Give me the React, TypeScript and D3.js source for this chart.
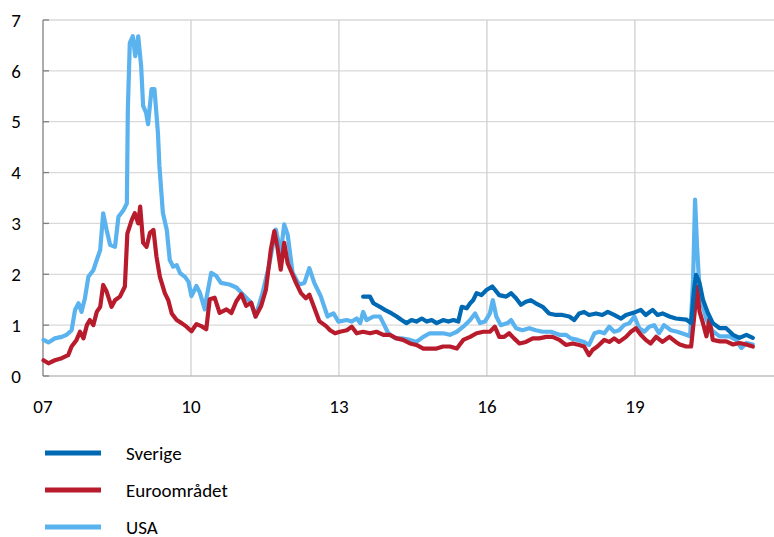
import React from 'react';
import * as d3 from 'd3';

// [år (decimal), procentenheter]
const sverige: [number, number][] = [
  [2013.49, 1.56], [2013.63, 1.56], [2013.7, 1.43], [2013.83, 1.36], [2013.93, 1.3],
  [2014.07, 1.23], [2014.17, 1.17], [2014.27, 1.1], [2014.37, 1.04], [2014.47, 1.1],
  [2014.57, 1.07], [2014.68, 1.13], [2014.78, 1.07], [2014.88, 1.1], [2014.98, 1.04],
  [2015.11, 1.1], [2015.22, 1.07], [2015.32, 1.1], [2015.42, 1.07], [2015.49, 1.36],
  [2015.59, 1.33], [2015.66, 1.43], [2015.72, 1.49], [2015.79, 1.63], [2015.89, 1.59],
  [2015.99, 1.69], [2016.11, 1.76], [2016.25, 1.59], [2016.39, 1.56], [2016.49, 1.63],
  [2016.59, 1.53], [2016.69, 1.4], [2016.79, 1.46], [2016.89, 1.49], [2016.99, 1.43],
  [2017.13, 1.36], [2017.26, 1.23], [2017.4, 1.2], [2017.53, 1.2], [2017.67, 1.17],
  [2017.77, 1.1], [2017.87, 1.23], [2017.97, 1.26], [2018.07, 1.2], [2018.21, 1.23],
  [2018.34, 1.2], [2018.45, 1.26], [2018.58, 1.2], [2018.72, 1.13], [2018.82, 1.2],
  [2018.92, 1.23], [2019.02, 1.26], [2019.12, 1.3], [2019.22, 1.2], [2019.36, 1.3],
  [2019.46, 1.2], [2019.56, 1.23], [2019.7, 1.17], [2019.83, 1.13], [2020.04, 1.11],
  [2020.14, 1.04], [2020.2, 1.7], [2020.24, 1.99], [2020.31, 1.83], [2020.38, 1.5],
  [2020.48, 1.24], [2020.58, 1.04], [2020.72, 0.94], [2020.85, 0.94], [2020.99, 0.81],
  [2021.12, 0.75], [2021.26, 0.81], [2021.39, 0.75],
];

const euro: [number, number][] = [
  [2007.01, 0.31], [2007.11, 0.25], [2007.24, 0.31], [2007.38, 0.35], [2007.51, 0.41],
  [2007.58, 0.58], [2007.68, 0.71], [2007.75, 0.87], [2007.82, 0.74], [2007.89, 1.0],
  [2007.95, 1.1], [2008.02, 1.0], [2008.09, 1.26], [2008.16, 1.36], [2008.22, 1.79],
  [2008.29, 1.66], [2008.39, 1.36], [2008.46, 1.49], [2008.56, 1.56], [2008.66, 1.76],
  [2008.71, 2.8], [2008.8, 3.07], [2008.86, 3.2], [2008.93, 3.0], [2008.97, 3.33],
  [2009.03, 2.62], [2009.1, 2.54], [2009.17, 2.82], [2009.24, 2.87], [2009.3, 2.35],
  [2009.37, 1.95], [2009.47, 1.63], [2009.54, 1.49], [2009.61, 1.23], [2009.71, 1.1],
  [2009.81, 1.04], [2009.91, 0.97], [2010.01, 0.88], [2010.11, 1.02], [2010.21, 0.98],
  [2010.31, 0.92], [2010.38, 1.51], [2010.48, 1.54], [2010.58, 1.24], [2010.72, 1.31],
  [2010.82, 1.24], [2010.92, 1.47], [2011.02, 1.61], [2011.12, 1.38], [2011.22, 1.44],
  [2011.31, 1.17], [2011.42, 1.37], [2011.52, 1.7], [2011.62, 2.49], [2011.69, 2.85],
  [2011.75, 2.55], [2011.82, 2.09], [2011.89, 2.62], [2011.96, 2.22], [2012.03, 2.06],
  [2012.13, 1.83], [2012.23, 1.63], [2012.33, 1.53], [2012.4, 1.6], [2012.5, 1.34],
  [2012.6, 1.08], [2012.74, 0.98], [2012.82, 0.9], [2012.92, 0.84], [2013.02, 0.87],
  [2013.16, 0.9], [2013.26, 0.97], [2013.36, 0.84], [2013.49, 0.87], [2013.63, 0.84],
  [2013.76, 0.87], [2013.9, 0.81], [2014.03, 0.81], [2014.17, 0.74], [2014.3, 0.71],
  [2014.44, 0.64], [2014.57, 0.61], [2014.71, 0.54], [2014.84, 0.54], [2014.98, 0.54],
  [2015.11, 0.58], [2015.25, 0.58], [2015.39, 0.54], [2015.52, 0.71], [2015.66, 0.77],
  [2015.79, 0.84], [2015.93, 0.87], [2016.06, 0.87], [2016.16, 0.97], [2016.25, 0.77],
  [2016.35, 0.77], [2016.45, 0.84], [2016.55, 0.74], [2016.66, 0.64], [2016.79, 0.67],
  [2016.93, 0.74], [2017.06, 0.74], [2017.2, 0.77], [2017.33, 0.77], [2017.47, 0.71],
  [2017.6, 0.61], [2017.74, 0.64], [2017.87, 0.61], [2017.97, 0.58], [2018.07, 0.41],
  [2018.14, 0.51], [2018.24, 0.58], [2018.38, 0.71], [2018.48, 0.67], [2018.58, 0.74],
  [2018.68, 0.67], [2018.82, 0.77], [2018.92, 0.87], [2019.02, 0.94], [2019.12, 0.81],
  [2019.22, 0.71], [2019.32, 0.64], [2019.43, 0.77], [2019.56, 0.67], [2019.7, 0.77],
  [2019.83, 0.67], [2019.91, 0.62], [2020.04, 0.58], [2020.14, 0.58], [2020.21, 1.24],
  [2020.26, 1.76], [2020.31, 1.27], [2020.38, 1.04], [2020.45, 0.78], [2020.51, 1.11],
  [2020.58, 0.71], [2020.72, 0.68], [2020.85, 0.68], [2020.99, 0.62], [2021.12, 0.65],
  [2021.26, 0.62], [2021.39, 0.58],
];

const usa: [number, number][] = [
  [2007.01, 0.71], [2007.11, 0.66], [2007.24, 0.74], [2007.38, 0.77], [2007.48, 0.81],
  [2007.58, 0.9], [2007.65, 1.3], [2007.72, 1.43], [2007.78, 1.26], [2007.85, 1.53],
  [2007.92, 1.95], [2008.02, 2.08], [2008.09, 2.28], [2008.16, 2.48], [2008.22, 3.2],
  [2008.29, 2.87], [2008.36, 2.58], [2008.46, 2.54], [2008.53, 3.13], [2008.63, 3.26],
  [2008.7, 3.39], [2008.72, 5.24], [2008.76, 6.55], [2008.82, 6.68], [2008.87, 6.29],
  [2008.93, 6.68], [2008.99, 6.09], [2009.03, 5.31], [2009.09, 5.18], [2009.13, 4.95],
  [2009.2, 5.64], [2009.26, 5.64], [2009.33, 4.78], [2009.36, 4.13], [2009.43, 3.21],
  [2009.51, 2.87], [2009.57, 2.28], [2009.64, 2.15], [2009.71, 2.18], [2009.78, 2.02],
  [2009.88, 1.95], [2009.95, 1.85], [2010.01, 1.57], [2010.11, 1.77], [2010.18, 1.64],
  [2010.28, 1.31], [2010.31, 1.51], [2010.41, 2.03], [2010.51, 1.97], [2010.61, 1.83],
  [2010.78, 1.8], [2010.92, 1.74], [2011.05, 1.61], [2011.22, 1.44], [2011.31, 1.17],
  [2011.45, 1.63], [2011.58, 2.16], [2011.72, 2.88], [2011.82, 2.42], [2011.89, 2.98],
  [2011.96, 2.78], [2012.06, 2.03], [2012.19, 1.8], [2012.3, 1.83], [2012.4, 2.12],
  [2012.5, 1.83], [2012.63, 1.57], [2012.77, 1.17], [2012.82, 1.2], [2012.89, 1.23],
  [2012.99, 1.07], [2013.16, 1.1], [2013.26, 1.07], [2013.36, 1.13], [2013.43, 1.04],
  [2013.49, 1.26], [2013.56, 1.1], [2013.7, 1.17], [2013.83, 1.17], [2013.9, 1.04],
  [2014.0, 0.84], [2014.14, 0.74], [2014.27, 0.74], [2014.44, 0.71], [2014.57, 0.67],
  [2014.71, 0.77], [2014.84, 0.84], [2014.98, 0.84], [2015.11, 0.84], [2015.25, 0.81],
  [2015.39, 0.87], [2015.52, 0.97], [2015.66, 1.1], [2015.76, 1.23], [2015.86, 1.04],
  [2015.96, 1.07], [2016.06, 1.23], [2016.12, 1.49], [2016.19, 1.17], [2016.28, 1.0],
  [2016.42, 1.04], [2016.49, 1.1], [2016.59, 0.94], [2016.72, 0.9], [2016.86, 0.94],
  [2016.99, 0.9], [2017.13, 0.87], [2017.3, 0.87], [2017.47, 0.81], [2017.6, 0.81],
  [2017.7, 0.74], [2017.84, 0.71], [2017.97, 0.67], [2018.07, 0.61], [2018.18, 0.84],
  [2018.28, 0.87], [2018.38, 0.84], [2018.48, 0.97], [2018.58, 0.87], [2018.68, 0.9],
  [2018.78, 1.0], [2018.89, 1.04], [2018.99, 1.17], [2019.09, 0.94], [2019.19, 0.87],
  [2019.29, 0.97], [2019.39, 1.0], [2019.49, 0.84], [2019.59, 1.0], [2019.73, 0.9],
  [2019.86, 0.87], [2020.04, 0.81], [2020.12, 0.78], [2020.18, 1.89], [2020.22, 3.47],
  [2020.26, 2.55], [2020.31, 1.7], [2020.38, 1.37], [2020.45, 1.11], [2020.58, 0.88],
  [2020.72, 0.78], [2020.92, 0.78], [2021.05, 0.71], [2021.16, 0.55], [2021.26, 0.65],
  [2021.39, 0.62],
];

const yTicks = [0, 1, 2, 3, 4, 5, 6, 7];
const xTicks = [2007, 2010, 2013, 2016, 2019];
const xTickLabels = ['07', '10', '13', '16', '19'];

const series = [
  { name: 'Sverige', data: sverige, color: '#0069b4' },
  { name: 'Euroområdet', data: euro, color: '#b81c2c' },
  { name: 'USA', data: usa, color: '#5ab3ee' },
];

const W = 774;
const H = 537;
const font = 'Carlito, Lato, "Open Sans", sans-serif';

export default function App() {
  const x = d3.scaleLinear().domain([2007, 2021.8]).range([43, 773]);
  const y = d3.scaleLinear().domain([0, 7]).range([376, 20]);

  const line = d3
    .line<[number, number]>()
    .x((d) => x(d[0]))
    .y((d) => y(d[1]));

  // USA underst, Sverige överst
  const drawOrder = [series[2], series[1], series[0]];

  return (
    <svg
      width={W}
      height={H}
      style={{ position: 'absolute', left: 0, top: 0, background: '#fff' }}
    >
      {/* horisontella stödlinjer */}
      {yTicks.slice(1).map((t) => (
        <line key={'gy' + t} x1={x(2007)} x2={W} y1={y(t)} y2={y(t)} stroke="#d9d9d9" strokeWidth={1.3} />
      ))}
      {/* vertikala stödlinjer */}
      {xTicks.slice(1).map((t) => (
        <line key={'gx' + t} x1={x(t)} x2={x(t)} y1={y(7)} y2={y(0)} stroke="#d0d0d0" strokeWidth={1.3} />
      ))}
      {/* axlar */}
      <line x1={x(2007)} x2={W} y1={y(0)} y2={y(0)} stroke="#bfbfbf" strokeWidth={1.3} />
      <line x1={x(2007)} x2={x(2007)} y1={y(7)} y2={y(0)} stroke="#808080" strokeWidth={1.3} />
      {yTicks.map((t) => (
        <line key={'ty' + t} x1={x(2007)} x2={x(2007) + 6} y1={y(t)} y2={y(t)} stroke="#808080" strokeWidth={1.3} />
      ))}

      {yTicks.map((t) => (
        <text key={'ly' + t} x={21} y={y(t)} dy="0.35em" textAnchor="end" fontFamily={font} fontSize={19} fill="#000">
          {t}
        </text>
      ))}
      {xTicks.map((t, i) => (
        <text key={'lx' + t} x={x(t)} y={413} textAnchor="middle" fontFamily={font} fontSize={19} fill="#000">
          {xTickLabels[i]}
        </text>
      ))}

      {drawOrder.map((s) => (
        <path
          key={s.name}
          d={line(s.data) || ''}
          fill="none"
          stroke={s.color}
          strokeWidth={4.2}
          strokeLinejoin="round"
          strokeLinecap="round"
        />
      ))}

      {/* teckenförklaring */}
      {series.map((s, i) => (
        <g key={'lg' + s.name} transform={`translate(0, ${453 + i * 37})`}>
          <line x1={45} x2={101} y1={0} y2={0} stroke={s.color} strokeWidth={5} />
          <text x={126} y={0} dy="0.35em" fontFamily={font} fontSize={19} fill="#000">
            {s.name}
          </text>
        </g>
      ))}
    </svg>
  );
}
